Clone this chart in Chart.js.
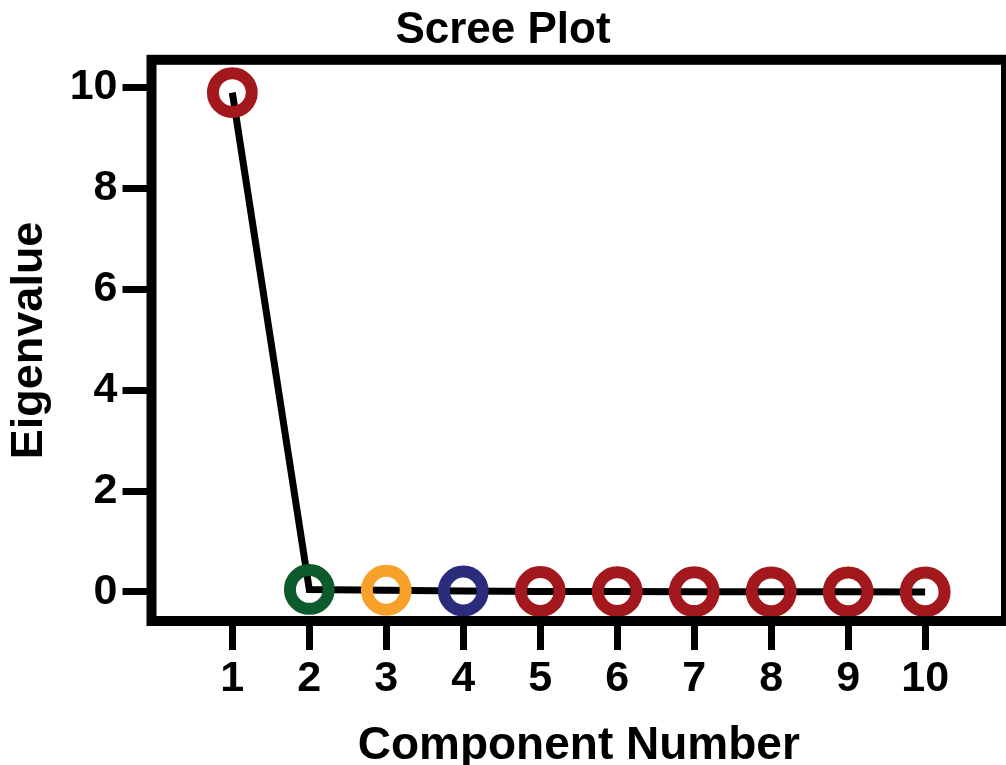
<!DOCTYPE html>
<html>
<head>
<meta charset="utf-8">
<script src="https://cdn.jsdelivr.net/npm/chart.js@4/dist/chart.umd.min.js"></script>
<style>
  html, body { margin: 0; padding: 0; background: #fff; overflow: hidden; }
  .chartBox { width: 1006px; height: 765px; }
</style>
</head>
<body>
<div class="chartBox">
  <canvas id="myChart" width="1006" height="765"></canvas>
</div>
<script>
// data
const components = [1, 2, 3, 4, 5, 6, 7, 8, 9, 10];
const eigenvalues = [9.9, 0.05, 0.035, 0.02, 0.01, 0.008, 0.006, 0.004, 0.003, 0.002];
const pointColors = ['#a3181d', '#0d5a2c', '#f7a02a', '#2b2c7c', '#a3181d',
                     '#a3181d', '#a3181d', '#a3181d', '#a3181d', '#a3181d'];
const xTicks = [1, 2, 3, 4, 5, 6, 7, 8, 9, 10];
const yTicks = [0, 2, 4, 6, 8, 10];

const font = 'Liberation Sans, Arial, sans-serif';

// thick frame round the plot area
const frame = {
  id: 'frame',
  afterDatasetsDraw(chart) {
    const { ctx, chartArea: a } = chart;
    ctx.save();
    ctx.strokeStyle = '#000';
    ctx.lineWidth = 10;
    ctx.lineJoin = 'miter';
    ctx.strokeRect(a.left, a.top, a.right - a.left, a.bottom - a.top);
    ctx.restore();
  }
};

const data = {
  datasets: [{
    label: 'Eigenvalue',
    data: components.map((c, i) => ({ x: c, y: eigenvalues[i] })),
    borderColor: '#000',
    borderWidth: 7,
    tension: 0,
    pointRadius: 19.4,
    pointHoverRadius: 19.4,
    pointBorderWidth: 12,
    pointBorderColor: pointColors,
    pointBackgroundColor: 'rgba(0,0,0,0)',
    clip: false
  }]
};

const config = {
  type: 'line',
  data,
  options: {
    responsive: false,
    animation: false,
    devicePixelRatio: 1,
    layout: { padding: 0, autoPadding: false },
    plugins: {
      legend: { display: false },
      tooltip: { enabled: false },
      title: {
        display: true,
        text: 'Scree Plot',
        color: '#000',
        font: { family: font, size: 44, weight: 'bold', lineHeight: 1.2 },
        padding: { top: 4, bottom: 3 }
      }
    },
    scales: {
      x: {
        type: 'linear',
        min: -0.05,
        max: 11.05,
        afterBuildTicks: (s) => { s.ticks = xTicks.map(v => ({ value: v })); },
        afterFit: (s) => { s.height = 144; s.paddingLeft = 0; s.paddingRight = 0; },
        border: { display: false },
        grid: { drawOnChartArea: false, drawTicks: true, tickLength: 29, tickWidth: 7, tickColor: '#000', color: '#000' },
        ticks: { color: '#000', padding: 3, maxRotation: 0, autoSkip: false,
                 font: { family: font, size: 43, weight: 'bold', lineHeight: 1.2 } },
        title: {
          display: true,
          text: 'Component Number',
          color: '#000',
          font: { family: font, size: 46, weight: 'bold', lineHeight: 0.8 },
          padding: { top: 0, bottom: 0 }
        }
      },
      y: {
        min: -0.575,
        max: 10.55,
        afterBuildTicks: (s) => { s.ticks = yTicks.map(v => ({ value: v })); },
        afterFit: (s) => { s.width = 151.5; s.paddingTop = 0; s.paddingBottom = 0; },
        border: { display: false },
        grid: { drawOnChartArea: false, drawTicks: true, tickLength: 29, tickWidth: 7, tickColor: '#000', color: '#000' },
        ticks: { color: '#000', padding: 5,
                 font: { family: font, size: 43, weight: 'bold', lineHeight: 1.2 } },
        title: {
          display: true,
          text: 'Eigenvalue',
          color: '#000',
          font: { family: font, size: 45, weight: 'bold', lineHeight: 1.2 },
          padding: { top: 3, bottom: 0 }
        }
      }
    }
  },
  plugins: [frame]
};

const myChart = new Chart(document.getElementById('myChart'), config);
</script>
</body>
</html>
